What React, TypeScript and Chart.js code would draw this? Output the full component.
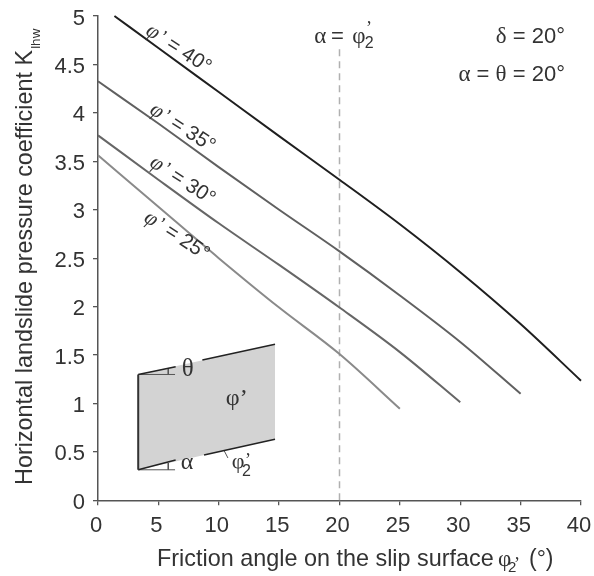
import React, { useEffect, useRef } from "react";
import { Chart, registerables } from "chart.js";

Chart.register(...registerables);

const xTickLabels = ["0", "5", "10", "15", "20", "25", "30", "35", "40"];
const yTickLabels = ["0", "0.5", "1", "1.5", "2", "2.5", "3", "3.5", "4", "4.5", "5"];

const phi40x = [1.36, 5, 10, 15, 20, 25, 30, 35, 40];
const phi40y = [5.0, 4.67, 4.215, 3.76, 3.31, 2.85, 2.355, 1.82, 1.235];
const phi35x = [0, 5, 10, 15, 20, 25, 30, 35];
const phi35y = [4.326, 3.89, 3.44, 3.0, 2.57, 2.115, 1.635, 1.1];
const phi30x = [0, 5, 10, 15, 20, 25, 30];
const phi30y = [3.768, 3.31, 2.86, 2.43, 1.99, 1.53, 1.012];
const phi25x = [0, 5, 10, 15, 20, 25];
const phi25y = [3.562, 3.03, 2.5, 1.99, 1.51, 0.945];
const refX = [20, 20];
const refY = [0, 4.67];

const blockX = [3.33, 14.66, 14.66, 3.33];
const blockY = [1.299, 1.61, 0.63, 0.315];
const wallX = [3.33, 3.33];
const wallY = [1.299, 0.315];
const topLeftX = [3.33, 6.43];
const topLeftY = [1.299, 1.379];
const topRightX = [8.64, 14.66];
const topRightY = [1.449, 1.61];
const botLeftX = [3.33, 6.43];
const botLeftY = [0.315, 0.416];
const botRightX = [8.78, 14.66];
const botRightY = [0.468, 0.63];
const thetaBaseX = [3.33, 6.38];
const thetaBaseY = [1.299, 1.299];
const alphaBaseX = [3.33, 6.38];
const alphaBaseY = [0.315, 0.315];
const thetaMarkX = [5.82, 5.82];
const thetaMarkY = [1.366, 1.299];
const alphaMarkX = [5.82, 5.82];
const alphaMarkY = [0.385, 0.315];
const slipMarkX = [10.46, 10.76];
const slipMarkY = [0.509, 0.437];

const curveLabels = ["’ = 40°", "’ = 35°", "’ = 30°", "’ = 25°"];
const curveLabelX = [6.6, 6.93, 6.93, 6.45];
const curveLabelY = [4.68, 3.865, 3.32, 2.75];

const zip = (xs: number[], ys: number[]) => xs.map((x, i) => ({ x, y: ys[i] }));

const SANS = '"Liberation Sans", Arial, sans-serif';
const SERIF = '"Liberation Serif", "Times New Roman", serif';
const INK = "#333333";
const AXIS = "#555555";

function thin(xs: number[], ys: number[], color = "#222222", w = 1.5) {
  return { data: zip(xs, ys), borderColor: color, borderWidth: w, pointRadius: 0, fill: false, clip: false, order: 1 };
}

function text(ctx: CanvasRenderingContext2D, s: string, x: number, y: number, font: string, align: CanvasTextAlign = "left") {
  ctx.font = font;
  ctx.textAlign = align;
  ctx.fillText(s, x, y);
}

// Draws mixed-font runs so that they end at x
function runsRight(ctx: CanvasRenderingContext2D, runs: [string, string][], x: number, y: number) {
  ctx.textAlign = "left";
  let total = 0;
  runs.forEach(([s, f]) => { ctx.font = f; total += ctx.measureText(s).width; });
  let cur = x - total;
  runs.forEach(([s, f]) => { ctx.font = f; ctx.fillText(s, cur, y); cur += ctx.measureText(s).width; });
}

const annotations = {
  id: "annotations",
  afterDatasetsDraw(chart: any) {
    const { ctx, scales } = chart;
    const px = (v: number) => scales.x.getPixelForValue(v);
    const py = (v: number) => scales.y.getPixelForValue(v);
    const sans22 = `22px ${SANS}`;
    const serif22 = `23px ${SERIF}`;
    ctx.save();
    ctx.fillStyle = INK;
    ctx.textBaseline = "alphabetic";

    // Curve labels
    curveLabels.forEach((label, i) => {
      ctx.save();
      ctx.translate(px(curveLabelX[i]), py(curveLabelY[i]));
      ctx.rotate((33 * Math.PI) / 180);
      text(ctx, "φ", -35, 7, `italic 22px ${SERIF}`);
      text(ctx, label, -20.5, 7, `20.5px ${SANS}`);
      ctx.restore();
    });

    // Top annotations
    runsRight(ctx, [["δ", serif22], [" = 20°", sans22]], px(38.67), py(4.72));
    runsRight(ctx, [["α", serif22], [" = ", sans22], ["θ", serif22], [" = 20°", sans22]], px(38.67), py(4.325));
    text(ctx, "α", px(17.9), py(4.72), serif22);
    text(ctx, "=", px(19.3), py(4.72), sans22);
    text(ctx, "φ", px(21.05), py(4.72), serif22);
    text(ctx, "2", px(22.1), py(4.67), `16px ${SANS}`);
    text(ctx, "’", px(22.2), py(4.814), `18px ${SERIF}`);

    // Inset labels
    text(ctx, "θ", px(7.43), py(1.283), `25px ${SERIF}`, "center");
    text(ctx, "φ’", px(11.49), py(0.984), `24px ${SERIF}`, "center");
    text(ctx, "α", px(7.37), py(0.323), `24px ${SERIF}`, "center");
    text(ctx, "φ", px(11.6), py(0.335), `22px ${SERIF}`, "center");
    text(ctx, "2", px(11.93), py(0.25), `16px ${SANS}`);
    text(ctx, "’", px(12.17), py(0.355), `18px ${SERIF}`);

    // X axis title
    const xBase = chart.height - 10;
    text(ctx, "Friction angle on the slip surface", 157, xBase, `23.4px ${SANS}`);
    text(ctx, "φ", 498, xBase, `23px ${SERIF}`);
    text(ctx, "2", 508, xBase + 6, `15px ${SANS}`);
    text(ctx, "’", 514, xBase + 4, `18px ${SERIF}`);
    text(ctx, "(°)", 529, xBase, `23px ${SANS}`);

    // Y axis title
    ctx.save();
    ctx.translate(32, 485);
    ctx.rotate(-Math.PI / 2);
    const yTitle = "Horizontal landslide pressure coefficient K";
    text(ctx, yTitle, 0, 0, `23.4px ${SANS}`);
    const w = ctx.measureText(yTitle).width;
    text(ctx, "lhw", w + 1, 8, `13.5px ${SANS}`);
    ctx.restore();

    ctx.restore();
  },
};

export default function App() {
  const ref = useRef<HTMLCanvasElement>(null);
  useEffect(() => {
    const curve = (xs: number[], ys: number[], color: string) => ({
      data: zip(xs, ys),
      borderColor: color,
      borderWidth: 2,
      pointRadius: 0,
      cubicInterpolationMode: "monotone",
      clip: false,
      order: 0,
    });
    const chart = new Chart(ref.current!, {
      type: "line",
      plugins: [annotations],
      data: {
        datasets: [
          curve(phi40x, phi40y, "#1f1f1f"),
          curve(phi35x, phi35y, "#606060"),
          curve(phi30x, phi30y, "#666666"),
          curve(phi25x, phi25y, "#8a8a8a"),
          { data: zip(refX, refY), borderColor: "#b0b0b0", borderWidth: 1.5, borderDash: [7, 5], pointRadius: 0, clip: false, order: 0 },
          thin(wallX, wallY, "#333333", 2),
          thin(topLeftX, topLeftY),
          thin(topRightX, topRightY),
          thin(botLeftX, botLeftY),
          thin(botRightX, botRightY),
          thin(thetaBaseX, thetaBaseY, "#555555", 1),
          thin(alphaBaseX, alphaBaseY, "#555555", 1),
          thin(thetaMarkX, thetaMarkY, "#555555", 1),
          thin(alphaMarkX, alphaMarkY, "#555555", 1),
          thin(slipMarkX, slipMarkY, "#555555", 1),
          {
            data: zip(blockX, blockY),
            borderColor: "rgba(0,0,0,0)",
            borderWidth: 0,
            backgroundColor: "#d3d3d3",
            fill: "shape",
            pointRadius: 0,
            clip: false,
            order: 2,
          },
        ] as any,
      },
      options: {
        animation: false,
        responsive: false,
        layout: { padding: { top: 16, right: 13, left: 0, bottom: 0 } },
        plugins: { legend: { display: false }, title: { display: false }, tooltip: { enabled: false } },
        scales: {
          x: {
            type: "linear",
            min: 0,
            max: 40,
            afterFit: (s: any) => { s.height = 75.7; s.paddingLeft = 0; s.paddingRight = 0; },
            afterBuildTicks: (s: any) => { s.ticks = xTickLabels.map((t) => ({ value: Number(t) })); },
            ticks: {
              autoSkip: false,
              maxRotation: 0,
              padding: 7,
              labelOffset: -2,
              color: INK,
              font: { family: SANS, size: 22 },
              callback: (v: any) => String(v),
            },
            grid: { drawOnChartArea: false, tickLength: 5, color: AXIS, lineWidth: 1.3 },
            border: { color: AXIS, width: 1.5 },
          },
          y: {
            type: "linear",
            min: 0,
            max: 5,
            afterFit: (s: any) => { s.width = 98; s.paddingTop = 0; s.paddingBottom = 0; },
            afterBuildTicks: (s: any) => { s.ticks = yTickLabels.map((t) => ({ value: Number(t) })); },
            ticks: {
              autoSkip: false,
              padding: 8,
              labelOffset: 2.5,
              color: INK,
              font: { family: SANS, size: 22 },
              callback: (v: any) => String(v),
            },
            grid: { drawOnChartArea: false, tickLength: 5, color: AXIS, lineWidth: 1.3 },
            border: { color: AXIS, width: 1.5 },
          },
        },
      } as any,
    });
    return () => chart.destroy();
  }, []);
  return (
    <div style={{ position: "fixed", left: 0, top: 0, width: 594, height: 576, background: "#fff" }}>
      <canvas ref={ref} width={594} height={576} style={{ display: "block" }} />
    </div>
  );
}
